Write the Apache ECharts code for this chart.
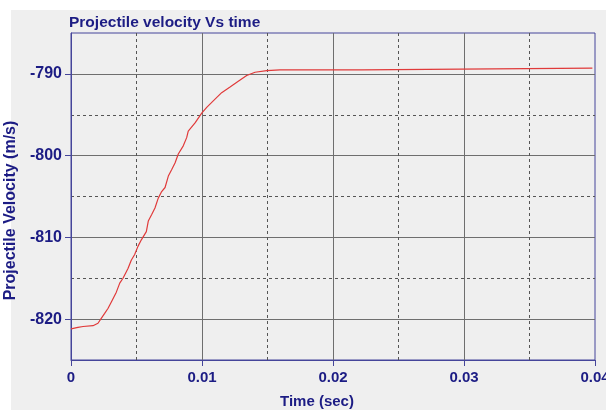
<!DOCTYPE html>
<html>
<head>
<meta charset="utf-8">
<script src="https://cdn.jsdelivr.net/npm/echarts@6/dist/echarts.min.js"></script>
<style>
  html, body { margin: 0; padding: 0; background: #ffffff; }
  #panel { position: absolute; left: 11px; top: 10px; width: 595px; height: 400px; background: #efefef; }
  #chart { position: absolute; left: 0; top: 0; width: 606px; height: 410px; }
</style>
</head>
<body>
<div id="panel"></div>
<div id="chart"></div>
<script>
// Projectile velocity history (time in seconds, velocity in m/s)
const timeSec = [
  0, 0.00053, 0.00092, 0.00168, 0.00206, 0.00231, 0.00257, 0.00282, 0.00308,
  0.00346, 0.00372, 0.00397, 0.00435, 0.0046, 0.00486, 0.00498, 0.00511,
  0.00537, 0.00575, 0.0059, 0.00616, 0.00641, 0.00666, 0.00692, 0.00718,
  0.00743, 0.00769, 0.00794, 0.00819, 0.00857, 0.00883, 0.00895, 0.00947,
  0.00998, 0.01036, 0.01086, 0.0115, 0.01214, 0.01277, 0.01341, 0.01405,
  0.01494, 0.01595, 0.0222, 0.0222, 0.0398
];
const velocity = [
  -821.2, -821.0, -820.9, -820.8, -820.5, -819.9, -819.3, -818.7, -817.9,
  -816.7, -815.6, -815.0, -813.8, -812.8, -812.1, -811.9, -811.1,
  -810.3, -809.3, -808.0, -807.2, -806.4, -805.2, -804.4, -803.9,
  -802.5, -801.7, -800.9, -799.8, -798.8, -797.8, -797.0, -796.0,
  -794.8, -794.1, -793.3, -792.3, -791.6, -790.9, -790.2, -789.8,
  -789.6, -789.5, -789.5, -789.3, -789.3
];

// Axis ticks
const xTicks = [0, 0.01, 0.02, 0.03, 0.04];
const yMajorTicks = [-820, -810, -800, -790];

const titleText = 'Projectile velocity Vs time';
const xName = 'Time (sec)';
const yName = 'Projectile Velocity (m/s)';

const NAVY = '#1c1c84';
const AXIS_NAVY = '#45459a';
const GRID_SOLID = '#6e6e6e';
const GRID_DASH = '#555555';
const FONT = 'Liberation Sans, Arial, sans-serif';

const seriesData = timeSec.map((t, i) => [t, velocity[i]]);

const chart = echarts.init(document.getElementById('chart'), null, { renderer: 'canvas' });

chart.setOption({
  backgroundColor: 'transparent',
  animation: false,
  title: {
    text: titleText,
    left: 69,
    top: 15,
    padding: 0,
    textStyle: { color: NAVY, fontSize: 15.5, fontWeight: 'bold', fontFamily: FONT }
  },
  grid: {
    left: 71, right: 11, top: 33, bottom: 50,
    outerBoundsMode: 'none',
    containLabel: false,
    show: true,
    backgroundColor: '#efefef',
    borderColor: AXIS_NAVY,
    borderWidth: 1
  },
  xAxis: {
    type: 'value',
    min: xTicks[0],
    max: xTicks[xTicks.length - 1],
    interval: 0.01,
    name: xName,
    nameLocation: 'middle',
    nameGap: 34,
    nameTextStyle: { color: NAVY, fontSize: 15, fontWeight: 'bold', fontFamily: FONT, padding: [0, 32, 0, 0] },
    axisLine: { show: true, lineStyle: { color: AXIS_NAVY, width: 1 } },
    axisTick: { show: true, length: 6, lineStyle: { color: AXIS_NAVY } },
    axisLabel: { color: NAVY, fontSize: 15, fontWeight: 'bold', fontFamily: FONT, margin: 10 },
    splitLine: { show: true, showMinLine: false, showMaxLine: false, lineStyle: { color: GRID_SOLID, width: 1 } },
    minorTick: { show: false, splitNumber: 2 },
    minorSplitLine: { show: true, lineStyle: { color: GRID_DASH, width: 1, type: [3, 3] } }
  },
  yAxis: [
    {
      type: 'value',
      min: -825,
      max: -785,
      interval: 5,
      name: yName,
      nameLocation: 'middle',
      nameGap: 38,
      nameTextStyle: { color: NAVY, fontSize: 16, fontWeight: 'bold', fontFamily: FONT, padding: [0, 28, 0, 0] },
      axisLine: { show: true, lineStyle: { color: AXIS_NAVY, width: 1 } },
      axisTick: { show: true, length: 6, lineStyle: { color: AXIS_NAVY }, customValues: yMajorTicks },
      axisLabel: {
        color: NAVY, fontSize: 16, fontWeight: 'bold', fontFamily: FONT, margin: 9,
        customValues: yMajorTicks,
        formatter: v => String(Math.round(v))
      },
      splitLine: { show: true, lineStyle: { color: GRID_SOLID, width: 1 } }
    },
    {
      // dashed half-step grid lines
      type: 'value',
      position: 'left',
      min: -825,
      max: -785,
      interval: 10,
      axisLine: { show: false },
      axisTick: { show: false },
      axisLabel: { show: false },
      splitLine: { show: true, showMaxLine: false, lineStyle: { color: GRID_DASH, width: 1, type: [3, 3] } }
    }
  ],
  series: [{
    type: 'line',
    data: seriesData,
    showSymbol: false,
    lineStyle: { color: '#e03a3a', width: 1.2 },
    z: 5
  }]
});
</script>
</body>
</html>
